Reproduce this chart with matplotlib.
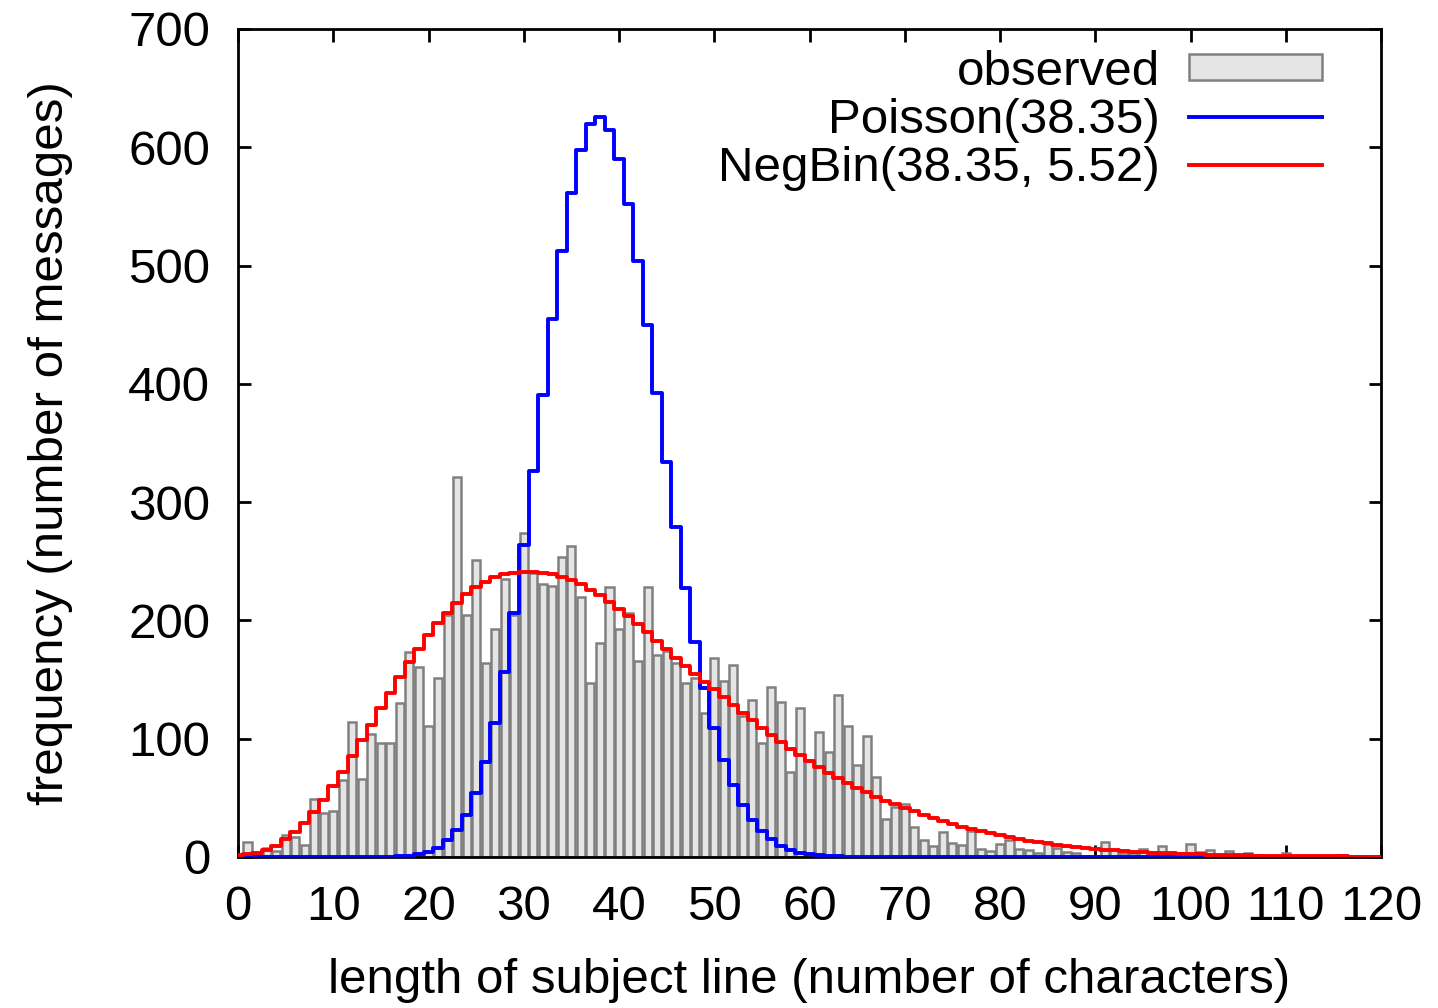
import numpy as np
import matplotlib.pyplot as plt

plt.rcParams['font.family'] = ['Liberation Sans', 'DejaVu Sans']

# comprimento do assunto (0..120)
length = np.arange(0, 121)

observed = [
    0, 13, 2, 8, 5, 19, 17, 10, 49, 37,
    39, 65, 114, 66, 104, 96, 96, 130, 173, 161,
    111, 151, 205, 321, 205, 251, 164, 193, 235, 205,
    274, 240, 231, 229, 254, 263, 220, 147, 181, 228,
    193, 206, 166, 228, 171, 174, 164, 147, 151, 122,
    168, 149, 162, 119, 133, 96, 144, 131, 72, 126,
    82, 106, 89, 137, 111, 78, 102, 68, 32, 42,
    45, 25, 14, 9, 21, 12, 10, 22, 7, 5,
    11, 14, 7, 6, 3, 11, 8, 4, 3, 1,
    1, 13, 6, 3, 3, 7, 4, 9, 3, 3,
    11, 4, 6, 2, 5, 2, 3, 2, 1, 1,
    3, 1, 1, 0, 1, 0, 2, 1, 0, 1,
    0,
]

# ajuste Poisson(38.35)
poisson = [0.0] * 15 + [
    0.1, 0.2, 0.6, 1.2, 2.4,
    4.5, 8, 14.4, 22.8, 35.5, 54, 80.6, 113, 156, 206.5,
    264, 326, 391, 454.5, 512.5, 561, 598, 619.6, 625.8, 615,
    590, 552, 504, 450, 392, 334, 279, 227.6, 182, 142.6,
    109, 82, 61, 44, 31, 22, 15, 9.6, 6, 3.8,
    2.3, 1.4, 0.8, 0.5, 0.3, 0.2, 0.1,
] + [0.0] * 54

# ajuste NegBin(38.35, 5.52)
negbin = [
    1.7, 2.4, 3, 6, 9.3, 15, 21.4, 29, 38, 48,
    60, 72, 85, 99, 112, 125.7, 139, 152, 165, 176,
    187.7, 197.5, 206.5, 215, 222, 228, 232.7, 236.4, 239, 240,
    241, 241, 240, 239, 237, 234, 230.5, 226, 221.5, 216,
    210, 203.7, 197, 190, 182.6, 175.6, 168.5, 161.5, 154.4, 148,
    141.7, 135, 128.5, 122, 115.5, 108.8, 103, 97, 91.3, 86,
    81, 76, 71.3, 67, 62.8, 58.6, 54.7, 51, 47.6, 44.8,
    41.7, 38.6, 35.5, 32.7, 30.4, 28, 25.6, 23.7, 21.7, 20,
    18.3, 16.6, 15.2, 13.8, 12.7, 11.5, 10.4, 9.6, 8.7, 7.9,
    7, 6.2, 5.6, 5.1, 4.5, 4.2, 3.8, 3.4, 3.1, 2.8,
    2.5, 2.3, 2.0, 1.8, 1.7, 1.5, 1.35, 1.2, 1.1, 1.0,
    0.9, 0.8, 0.7, 0.65, 0.6, 0.5, 0.45, 0.4, 0.37, 0.33,
    0.3,
]

fs = 35.5

fig = plt.figure(figsize=(14.38, 10.08), dpi=100)
ax = fig.add_axes([238/1438, 1 - 857/1008, (1381-238)/1438, (857-29)/1008])

b = ax.bar(length, observed, width=0.85, color='#e5e5e5', edgecolor='#808080',
           linewidth=1.8, label='observed', zorder=2)
l1, = ax.step(length, poisson, where='mid', color='#0000ff', lw=2.8,
              label='Poisson(38.35)', zorder=3)
l2, = ax.step(length, negbin, where='mid', color='#ff0000', lw=2.8,
              label='NegBin(38.35, 5.52)', zorder=4)

ax.set_xlim(0, 120)
ax.set_ylim(0, 700)
ax.set_xticks(np.arange(0, 121, 10))
ax.set_yticks(np.arange(0, 701, 100))
ax.tick_params(direction='in', length=9, width=2, labelsize=fs,
               top=True, right=True)
ax.tick_params(axis='x', pad=20)
ax.tick_params(axis='y', pad=20)
for s in ax.spines.values():
    s.set_linewidth(2)

ax.set_xlabel('length of subject line (number of characters)', fontsize=fs,
              labelpad=20)
ax.set_ylabel('frequency (number of messages)', fontsize=fs, labelpad=40)

ax.legend([b, l1, l2], ['observed', 'Poisson(38.35)', 'NegBin(38.35, 5.52)'],
          loc='upper right', bbox_to_anchor=(0.948, 0.975), frameon=False,
          markerfirst=False, fontsize=fs, handlelength=2.68,
          handleheight=0.45, handletextpad=0.6, labelspacing=0.06,
          borderaxespad=0, borderpad=0)

plt.savefig('out.png', dpi=100)
